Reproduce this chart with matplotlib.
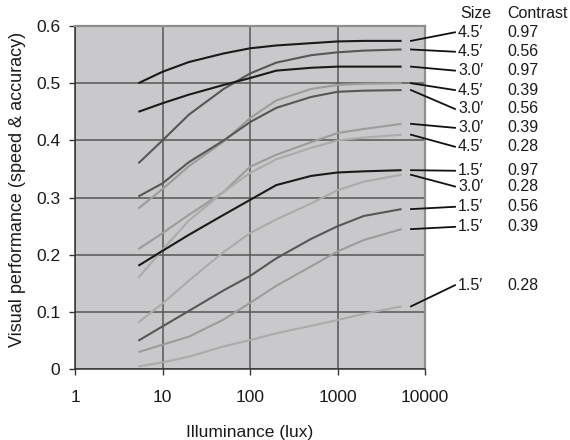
import matplotlib
matplotlib.use("Agg")
import matplotlib.pyplot as plt
from matplotlib.transforms import blended_transform_factory

# Illuminance values (lux) at which each curve is sampled
illuminance = [5.3, 10, 20, 50, 100, 200, 500, 1000, 2000, 5400]

# Relative visual performance for each target size / contrast combination
vp_45_097 = [0.500, 0.520, 0.537, 0.552, 0.561, 0.566, 0.570, 0.573, 0.574, 0.574]
vp_45_056 = [0.360, 0.400, 0.445, 0.490, 0.517, 0.536, 0.549, 0.554, 0.557, 0.559]
vp_30_097 = [0.450, 0.465, 0.480, 0.497, 0.509, 0.522, 0.527, 0.529, 0.529, 0.529]
vp_45_039 = [0.281, 0.315, 0.355, 0.398, 0.439, 0.470, 0.490, 0.497, 0.499, 0.500]
vp_30_056 = [0.302, 0.325, 0.362, 0.400, 0.432, 0.457, 0.476, 0.485, 0.487, 0.488]
vp_30_039 = [0.210, 0.238, 0.270, 0.310, 0.354, 0.375, 0.397, 0.413, 0.420, 0.429]
vp_45_028 = [0.160, 0.209, 0.260, 0.310, 0.343, 0.367, 0.387, 0.400, 0.405, 0.410]
vp_15_097 = [0.181, 0.207, 0.235, 0.270, 0.296, 0.322, 0.338, 0.344, 0.346, 0.348]
vp_30_028 = [0.082, 0.115, 0.155, 0.205, 0.238, 0.262, 0.290, 0.313, 0.328, 0.340]
vp_15_056 = [0.050, 0.075, 0.102, 0.138, 0.163, 0.194, 0.228, 0.250, 0.268, 0.280]
vp_15_039 = [0.030, 0.043, 0.057, 0.087, 0.116, 0.146, 0.180, 0.206, 0.226, 0.245]
vp_15_028 = [0.005, 0.012, 0.022, 0.040, 0.051, 0.063, 0.076, 0.086, 0.097, 0.110]

curves = [vp_45_097, vp_45_056, vp_30_097, vp_45_039, vp_30_056, vp_30_039,
          vp_45_028, vp_15_097, vp_30_028, vp_15_056, vp_15_039, vp_15_028]
sizes = ["4.5′", "4.5′", "3.0′", "4.5′", "3.0′", "3.0′",
         "4.5′", "1.5′", "3.0′", "1.5′", "1.5′", "1.5′"]
contrasts = ["0.97", "0.56", "0.97", "0.39", "0.56", "0.39",
             "0.28", "0.97", "0.28", "0.56", "0.39", "0.28"]

x_ticks = [1, 10, 100, 1000, 10000]
x_tick_labels = ["1", "10", "100", "1000", "10000"]
y_ticks = [0, 0.1, 0.2, 0.3, 0.4, 0.5, 0.6]
y_tick_labels = ["0", "0.1", "0.2", "0.3", "0.4", "0.5", "0.6"]

# Vertical position of each annotation row, in data units
label_y = [0.589, 0.555, 0.522, 0.488, 0.455, 0.422, 0.389,
           0.347, 0.3195, 0.284, 0.249, 0.147]
header_y = 0.622

line_colors = {"0.97": "#1a1a1a", "0.56": "#575757",
               "0.39": "#9c9c9c", "0.28": "#ababab"}

FONT = ["Liberation Sans", "DejaVu Sans"]
plt.rcParams["font.family"] = FONT

W, H = 570, 440
fig = plt.figure(figsize=(W / 100, H / 100), dpi=100)
ax = fig.add_axes([75 / W, 1 - 369.3 / H, 350 / W, 343.3 / H])
ax.set_facecolor("#c9c9cb")

ax.set_xscale("log")
ax.set_xlim(1, 10000)
ax.set_ylim(0, 0.6)

ax.set_xticks(x_ticks)
ax.set_xticklabels(x_tick_labels)
ax.minorticks_off()
ax.set_yticks(y_ticks)
ax.set_yticklabels(y_tick_labels)
ax.tick_params(axis="x", direction="out", length=4.2, width=1.0,
               color="#333333", labelsize=12.5, pad=11, labelcolor="#1a1a1a")
ax.tick_params(axis="y", direction="out", length=4.5, width=1.0,
               color="#333333", labelsize=12.5, pad=6, labelcolor="#1a1a1a")

ax.grid(True, which="major", color="#555555", linewidth=1.1)
ax.set_axisbelow(True)

for side in ("left", "bottom"):
    ax.spines[side].set_color("#333333")
    ax.spines[side].set_linewidth(1.1)
for side in ("top", "right"):
    ax.spines[side].set_color("#8e8e8e")
    ax.spines[side].set_linewidth(1.6)

for vals, c in zip(curves, contrasts):
    ax.plot(illuminance, vals, color=line_colors[c], linewidth=1.5,
            solid_capstyle="butt", zorder=3)

# Leader lines and labels to the right of the plot
trans = blended_transform_factory(ax.transAxes, ax.transData)
lead_x0, lead_x1 = (411 - 75) / 350, (455 - 75) / 350
size_x, contrast_x = (458 - 75) / 350, (507 - 75) / 350
for vals, s, c, ly in zip(curves, sizes, contrasts, label_y):
    ax.plot([lead_x0, lead_x1], [vals[-1], ly], transform=trans,
            color="#111111", linewidth=1.3, clip_on=False, zorder=4)
    ax.text(size_x, ly, s, transform=trans, fontsize=11.5, va="center",
            ha="left", color="#1a1a1a", family=FONT)
    ax.text(contrast_x, ly, c, transform=trans, fontsize=11.5, va="center",
            ha="left", color="#1a1a1a", family=FONT)

ax.text(size_x + 2 / 350, header_y, "Size", transform=trans, fontsize=11.5,
        va="center", ha="left", color="#1a1a1a")
ax.text(contrast_x, header_y, "Contrast", transform=trans, fontsize=11.5,
        va="center", ha="left", color="#1a1a1a")

fig.text(250 / W, 1 - 432 / H, "Illuminance (lux)", fontsize=12.5,
         ha="center", va="center", color="#1a1a1a")
fig.text(18 / W, 1 - 189 / H, "Visual performance (speed & accuracy)",
         fontsize=13, rotation=90, ha="center", va="center", color="#1a1a1a")

fig.savefig("out.png", dpi=100)
